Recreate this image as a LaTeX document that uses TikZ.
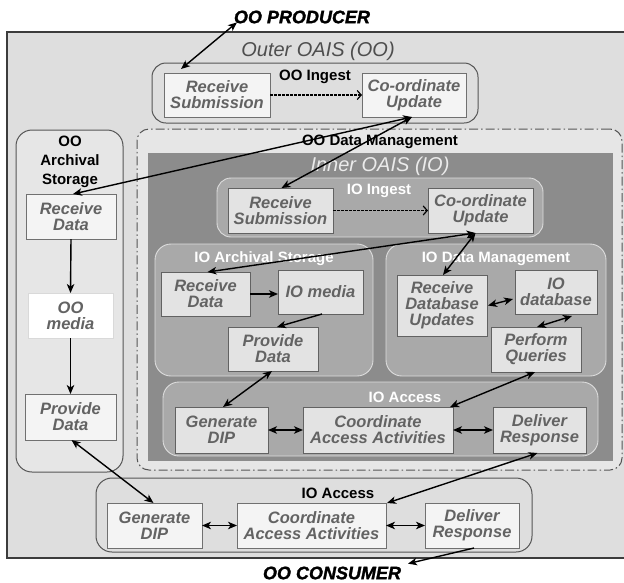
\documentclass[tikz,border=0pt]{standalone}
\usepackage{fontspec}
\setmainfont{Liberation Sans}
\newfontfamily\heavyfont[FakeBold=1.5]{Liberation Sans}
\usetikzlibrary{arrows.meta,calc}
\definecolor{bgray}{HTML}{DEDEDE}
\definecolor{bline}{HTML}{3C3C3C}
\definecolor{cline}{HTML}{555555}
\definecolor{wbox}{HTML}{F4F4F4}
\definecolor{wline}{HTML}{707070}
\definecolor{txtg}{HTML}{636363}
\definecolor{innerg}{HTML}{8C8C8C}
\definecolor{subg}{HTML}{A9A9A9}
\definecolor{subline}{HTML}{DCDCDC}
\definecolor{ibox}{HTML}{E3E3E3}
\definecolor{iline}{HTML}{626262}
\definecolor{dmfill}{HTML}{E6E6E6}
\definecolor{ootitle}{HTML}{4E4E4E}
\begin{document}
\begin{tikzpicture}[x=1pt,y=-1pt,
  every node/.style={inner sep=0pt, outer sep=0pt},
  cont/.style={draw=cline, line width=1pt, rounded corners=#1, anchor=north west},
  subcont/.style={draw=subline, fill=subg, line width=0.9pt, rounded corners=#1, anchor=north west},
  obox/.style={draw=wline, fill=wbox, line width=0.9pt, anchor=north west, align=center,
     text=txtg, font=\fontsize{16.5}{16}\selectfont\bfseries\itshape},
  ibox/.style={draw=iline, fill=ibox, line width=0.9pt, anchor=north west, align=center,
     text=txtg, font=\fontsize{16.5}{16}\selectfont\bfseries\itshape},
  blabel/.style={font=\fontsize{15}{19}\selectfont\bfseries, text=black, align=center},
  wlabel/.style={font=\fontsize{15}{19}\selectfont\bfseries, text=white},
  dbl/.style={line width=1.4pt, draw=black, {Stealth[length=9pt,width=7.5pt,inset=2.5pt]}-{Stealth[length=9pt,width=7.5pt,inset=2.5pt]}},
  sgl/.style={line width=1.4pt, draw=black, -{Stealth[length=9pt,width=7.5pt,inset=2.5pt]}},
  dsh/.style={line width=1.2pt, draw=black, dash pattern=on 2.5pt off 1.5pt, -{Straight Barb[length=4pt,width=9pt]}}
]
\useasboundingbox (0,0) rectangle (624,582);
\fill[white] (0,0) rectangle (624,582);

% outer OAIS background
\draw[fill=bgray, draw=bline, line width=1.1pt] (7,32) rectangle (630,558);
\node[font=\fontsize{20}{20}\selectfont\itshape, text=ootitle] (ootitle) at (318,51) {Outer OAIS (OO)};
\node[font=\fontsize{18}{18}\selectfont\heavyfont\bfseries\itshape] (prod) at (302,17) {OO PRODUCER};
\node[font=\fontsize{18}{18}\selectfont\heavyfont\bfseries\itshape] (cons) at (332,573) {OO CONSUMER};

% OO Ingest
\node[cont=14pt, minimum width=326pt, minimum height=60pt] (ooing) at (152,63) {};
\node[blabel] (ooinglab) at (315,77) {OO Ingest};
\node[obox, minimum width=106pt, minimum height=44pt] (ooRS) at (164,73) {Receive\\Submission};
\node[obox, minimum width=104pt, minimum height=44pt] (ooCU) at (362,73) {Co-ordinate\\Update};

% OO Archival Storage
\node[cont=16pt, fill=dmfill, minimum width=107pt, minimum height=342pt] (ooas) at (16,130) {};
\node[blabel] (ooaslab) at (70,162) {OO\\Archival\\Storage};
\node[obox, minimum width=90pt, minimum height=45pt] (ooRD) at (26,194) {Receive\\Data};
\node[obox, draw=white!85!black, fill=white, minimum width=85pt, minimum height=45pt] (ooMe) at (28,293) {OO\\media};
\node[obox, minimum width=91pt, minimum height=46pt] (ooPD) at (25,394) {Provide\\Data};

% OO Data Management (dash-dot)
\node[draw=cline, fill=dmfill, line width=1pt, dash pattern=on 9pt off 3pt on 1.5pt off 3pt, rounded corners=12pt, anchor=north west, minimum width=485pt, minimum height=341pt] (oodm) at (137,129) {};
\node[blabel] (oodmlab) at (380,142) {OO Data Management};

% Inner OAIS
\node[fill=innerg, anchor=north west, minimum width=465pt, minimum height=308pt] (io) at (148,153) {};
\node[font=\fontsize{20}{20}\selectfont\itshape, text=white!92!black] (iotitle) at (380,166) {Inner OAIS (IO)};

% IO Ingest
\node[subcont=14pt, minimum width=326pt, minimum height=59pt] (ioing) at (217,178) {};
\node[wlabel] (ioinglab) at (379,191) {IO Ingest};
\node[ibox, minimum width=105pt, minimum height=45pt] (ioRS) at (228,188) {Receive\\Submission};
\node[ibox, minimum width=105pt, minimum height=45pt] (ioCU) at (428,188) {Co-ordinate\\Update};

% IO Archival Storage
\node[subcont=16pt, minimum width=218pt, minimum height=132pt] (ioas) at (155,244) {};
\node[wlabel] (ioaslab) at (264,259) {IO Archival Storage};
\node[ibox, minimum width=89pt, minimum height=44pt] (ioRD) at (161,272) {Receive\\Data};
\node[ibox, minimum width=85pt, minimum height=44pt] (ioMe) at (278,270) {IO media};
\node[ibox, minimum width=90pt, minimum height=44pt] (ioPD) at (228,327) {Provide\\Data};

% IO Data Management
\node[subcont=16pt, minimum width=220pt, minimum height=132pt] (iodm) at (386,244) {};
\node[wlabel] (iodmlab) at (496,259) {IO Data Management};
\node[ibox, minimum width=90pt, minimum height=61pt] (ioRDU) at (397,275) {Receive\\Database\\Updates};
\node[ibox, minimum width=82pt, minimum height=44pt] (ioDB) at (515,270) {IO\\database};
\node[ibox, minimum width=90pt, minimum height=45pt] (ioPQ) at (491,327) {Perform\\Queries};

% IO Access (inner)
\node[subcont=16pt, minimum width=435pt, minimum height=74pt] (ioacc) at (163,382) {};
\node[wlabel] (ioacclab) at (405,397) {IO Access};
\node[ibox, minimum width=93pt, minimum height=46pt] (ioGD) at (175,407) {Generate\\DIP};
\node[ibox, minimum width=150pt, minimum height=46pt] (ioCA) at (303,407) {Coordinate\\Access Activities};
\node[ibox, minimum width=93pt, minimum height=46pt] (ioDR) at (493,407) {Deliver\\Response};

% IO Access (bottom)
\node[cont=16pt, minimum width=436pt, minimum height=74pt] (bacc) at (96,478) {};
\node[blabel] (bacclab) at (338,493) {IO Access};
\node[obox, minimum width=95pt, minimum height=45pt] (bGD) at (107,503) {Generate\\DIP};
\node[obox, minimum width=149pt, minimum height=45pt] (bCA) at (237,503) {Coordinate\\Access Activities};
\node[obox, minimum width=94pt, minimum height=45pt] (bDR) at (425,503) {Deliver\\Response};

% connectors
\draw[dbl] ($(prod.south west)+(3,-1)$) -- ($(ooRS.north)+(-36,-4)$);
\draw[dsh] (ooRS.east) -- (ooCU.west);
\draw[dbl] ($(ooCU.south)+(-2,0)$) -- ($(ooRD.north)+(2,0)$);
\draw[dbl] ($(ooCU.south)+(-2,0)$) -- ($(ioRS.north)+(1,0)$);
\draw[sgl] (ooRD.south) -- (ooMe.north);
\draw[sgl] (ooMe.south) -- (ooPD.north);
\draw[dbl] ($(ooPD.south)+(1,0)$) -- ($(bGD.north)+(-1,0)$);
\draw[dsh] (ioRS.east) -- (ioCU.west);
\draw[dbl] ($(ioCU.south)+(-5,0)$) -- ($(ioRD.north)+(2,0)$);
\draw[dbl] ($(ioCU.south)+(-5,0)$) -- ($(ioRDU.north)+(1,0)$);
\draw[sgl] (ioRD.east) -- (ioRD.east -| ioMe.west);
\draw[sgl] ($(ioMe.south west)+(44,0)$) -- ($(ioPD.north)+(4,0)$);
\draw[dbl] ($(ioRDU.east)+(1,0)$) -- ($(ioDB.south west)+(-2,-15)$);
\draw[dbl] ($(ioDB.south)+(16,2)$) -- ($(ioPQ.north)+(1,0)$);
\draw[dbl] ($(ioPD.south)+(-1,0)$) -- ($(ioGD.north)+(1.5,0)$);
\draw[dbl] ($(ioPQ.south)+(-1,0)$) -- ($(ioCA.north east)+(-3,0)$);
\draw[dbl] (ioGD.east) -- (ioCA.west);
\draw[dbl] (ioCA.east) -- (ioDR.west);
\draw[dbl] ($(ioDR.south)+(-2,0)$) -- ($(bCA.north east)+(1,0)$);
\draw[dbl] (bGD.east) -- (bCA.west);
\draw[dbl] (bCA.east) -- (bDR.west);
\draw[sgl] ($(bDR.south)+(2,0)$) -- ($(cons.north east)+(7,-3)$);
\end{tikzpicture}
\end{document}
